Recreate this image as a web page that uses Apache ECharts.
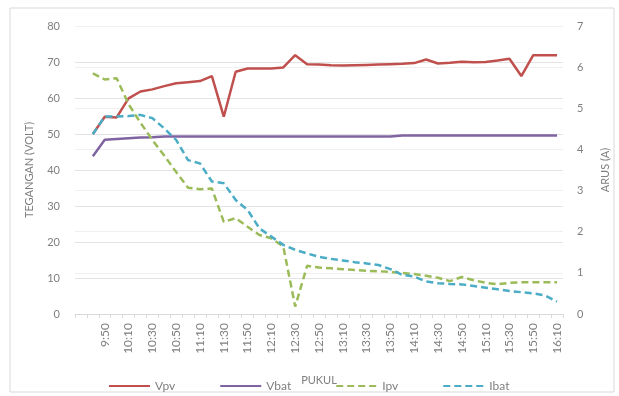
<!DOCTYPE html>
<html>
<head>
<meta charset="utf-8">
<script src="https://cdn.jsdelivr.net/npm/echarts@6/dist/echarts.min.js"></script>
<style>
html,body{margin:0;padding:0;background:#fff;}
#chart{width:619px;height:396px;}
</style>
</head>
<body>
<div id="chart"></div>
<script>
const categories = ['', '9:40','9:50','10:00','10:10','10:20','10:30','10:40','10:50','11:00','11:10','11:20','11:30','11:40','11:50','12:00','12:10','12:20','12:30','12:40','12:50','13:00','13:10','13:20','13:30','13:40','13:50','14:00','14:10','14:20','14:30','14:40','14:50','15:00','15:10','15:20','15:30','15:40','15:50','16:00','16:10'];
const vpv = [null, 50, 54.8, 54.6, 59.9, 61.8, 62.4, 63.3, 64.1, 64.4, 64.7, 66.1, 54.8, 67.3, 68.2, 68.2, 68.2, 68.5, 71.9, 69.4, 69.3, 69.1, 69.0, 69.1, 69.2, 69.3, 69.4, 69.5, 69.7, 70.7, 69.6, 69.8, 70.1, 69.9, 70.0, 70.4, 70.9, 66.1, 71.9, 71.9, 71.9];
const vbat = [null, 43.8, 48.4, 48.6, 48.8, 49.0, 49.1, 49.3, 49.3, 49.3, 49.3, 49.3, 49.3, 49.3, 49.3, 49.3, 49.3, 49.3, 49.3, 49.3, 49.3, 49.3, 49.3, 49.3, 49.3, 49.3, 49.3, 49.6, 49.6, 49.6, 49.6, 49.6, 49.6, 49.6, 49.6, 49.6, 49.6, 49.6, 49.6, 49.6, 49.6];
const ipv = [null, 5.85, 5.70, 5.73, 5.1, 4.65, 4.23, 3.85, 3.45, 3.07, 3.03, 3.05, 2.24, 2.33, 2.12, 1.92, 1.84, 1.64, 0.18, 1.17, 1.13, 1.11, 1.09, 1.07, 1.05, 1.04, 1.02, 1.0, 0.97, 0.93, 0.88, 0.8, 0.9, 0.82, 0.76, 0.72, 0.76, 0.77, 0.77, 0.77, 0.77];
const ibat = [null, 4.37, 4.8, 4.8, 4.81, 4.84, 4.76, 4.51, 4.23, 3.74, 3.66, 3.22, 3.18, 2.77, 2.53, 2.08, 1.88, 1.68, 1.56, 1.47, 1.39, 1.34, 1.30, 1.26, 1.23, 1.19, 1.09, 0.95, 0.91, 0.79, 0.75, 0.73, 0.72, 0.68, 0.64, 0.6, 0.56, 0.53, 0.50, 0.45, 0.30];
const seriesNames = ['Vpv', 'Vbat', 'Ipv', 'Ibat'];

const FONT = 'Lato';
const GRAY = '#7f7f7f';
const chart = echarts.init(document.getElementById('chart'), null, {renderer: 'canvas'});
chart.setOption({
  animation: false,
  backgroundColor: '#fff',
  textStyle: {fontFamily: FONT},
  graphic: [{type: 'rect', shape: {x: 10, y: 8, width: 604, height: 384}, style: {fill: 'none', stroke: '#d9d9d9', lineWidth: 1}, silent: true, z: -1}],
  grid: {left: 75, right: 49, top: 26, bottom: 82, containLabel: false},
  legend: {
    data: seriesNames, left: 103, top: 375, itemWidth: 41, itemHeight: 12, itemGap: 44,
    itemStyle: {opacity: 0},
    textStyle: {color: GRAY, fontSize: 12, fontFamily: FONT}
  },
  xAxis: {
    type: 'category', data: categories, boundaryGap: true,
    name: 'PUKUL', nameLocation: 'middle', nameGap: 61,
    nameTextStyle: {color: GRAY, fontSize: 11, fontFamily: FONT},
    axisLine: {lineStyle: {color: '#d9d9d9'}},
    axisTick: {show: true, interval: 0, length: 4, lineStyle: {color: '#d9d9d9'}},
    axisLabel: {interval: 1, rotate: 90, color: GRAY, fontSize: 12, fontFamily: FONT, margin: 9}
  },
  yAxis: [{
    type: 'value', min: 0, max: 80, interval: 10,
    name: 'TEGANGAN (VOLT)', nameLocation: 'middle', nameGap: 40, nameRotate: 90,
    nameTextStyle: {color: GRAY, fontSize: 11, fontFamily: FONT},
    axisLine: {show: false}, axisTick: {show: false},
    axisLabel: {color: GRAY, fontSize: 11, fontFamily: FONT, margin: 15},
    splitLine: {lineStyle: {color: '#e3e3e3'}}
  }, {
    type: 'value', min: 0, max: 7, interval: 1, position: 'right',
    name: 'ARUS (A)', nameLocation: 'middle', nameGap: 37, nameRotate: 90,
    nameTextStyle: {color: GRAY, fontSize: 11, fontFamily: FONT},
    axisLine: {show: false}, axisTick: {show: false},
    axisLabel: {color: GRAY, fontSize: 11, fontFamily: FONT, margin: 14},
    splitLine: {lineStyle: {color: '#f0f0f0'}}
  }],
  series: [
    {name: 'Vpv', type: 'line', yAxisIndex: 0, data: vpv, symbol: 'none', color: '#c0504d', lineStyle: {width: 2.5, color: '#c0504d'}, z: 1},
    {name: 'Vbat', type: 'line', yAxisIndex: 0, data: vbat, symbol: 'none', color: '#8064a2', lineStyle: {width: 2.5, color: '#8064a2'}, z: 2},
    {name: 'Ipv', type: 'line', yAxisIndex: 1, data: ipv, symbol: 'none', color: '#9bbb59', lineStyle: {width: 2.5, color: '#9bbb59', type: [7, 4]}, z: 3},
    {name: 'Ibat', type: 'line', yAxisIndex: 1, data: ibat, symbol: 'none', color: '#4bacc6', lineStyle: {width: 2.5, color: '#4bacc6', type: [7, 4]}, z: 4}
  ]
});
</script>
</body>
</html>
